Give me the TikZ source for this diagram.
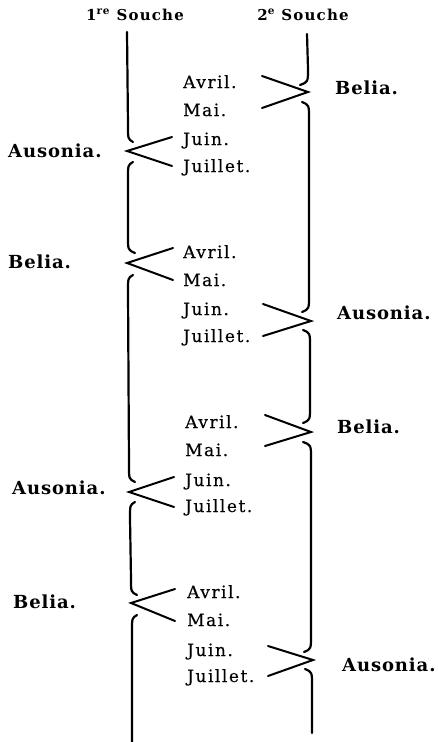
\documentclass[tikz,border=0pt]{standalone}
\usepackage{fontspec}
\setmainfont{DejaVu Serif}
\newfontfamily\monthfont[LetterSpace=9,FakeBold=0.4]{DejaVu Serif}
\newfontfamily\labfont[LetterSpace=5]{DejaVu Serif}
\newfontfamily\headfont[LetterSpace=8]{DejaVu Serif}
\begin{document}
\begin{tikzpicture}[x=1pt,y=-1pt,
  br/.style={line width=2.2pt,line cap=round},
  arm/.style={line width=2pt,line cap=round},
  month/.style={anchor=base west,inner sep=0pt,font=\monthfont\fontsize{17}{20}\selectfont},
  lab/.style={anchor=base west,inner sep=0pt,font=\labfont\bfseries\fontsize{18}{21}\selectfont},
  head/.style={anchor=base,inner sep=0pt,font=\headfont\bfseries\fontsize{15}{18}\selectfont}]
\useasboundingbox[fill=white] (0,0) rectangle (438,742);

% headers
\node[head] (h1) at (135,20) {1\textsuperscript{re} Souche};
\node[head] (h2) at (303,20) {2\textsuperscript{e} Souche};

% month blocks
\foreach \g/\x/\a/\b/\c/\d in {1/183/82/110/139/166, 2/183/252/280/309/336, 3/185/422/450/480/506, 4/187/592/620/650/676}{
  \node[month] (av\g) at (\x,\a+6) {Avril.};
  \node[month] (ma\g) at (\x,\b+6) {Mai.};
  \node[month] (ju\g) at (\x,\c+6) {Juin.};
  \node[month] (jl\g) at (\x,\d+6) {Juillet.};
}

% side labels
\node[lab] (l1) at (8,157) {Ausonia.};
\node[lab] (l2) at (8,268) {Belia.};
\node[lab] (l3) at (12,494) {Ausonia.};
\node[lab] (l4) at (13,608) {Belia.};
\node[lab] (r1) at (335,94) {Belia.};
\node[lab] (r2) at (337,319) {Ausonia.};
\node[lab] (r3) at (337,433) {Belia.};
\node[lab] (r4) at (342,671) {Ausonia.};

% tips and arm ends
\coordinate (A1) at (127,151); \coordinate (A1a) at (172,137); \coordinate (A1b) at (172,166);
\coordinate (A2) at (127,263); \coordinate (A2a) at (173,248); \coordinate (A2b) at (173,280);
\coordinate (A3) at (129,492); \coordinate (A3a) at (174,477); \coordinate (A3b) at (174,507);
\coordinate (A4) at (131,603); \coordinate (A4a) at (175,589); \coordinate (A4b) at (175,621);
\coordinate (B1) at (308,92);  \coordinate (B1a) at (262,76);  \coordinate (B1b) at (262,108);
\coordinate (B2) at (311,321); \coordinate (B2a) at (263,304); \coordinate (B2b) at (263,336);
\coordinate (B3) at (311,432); \coordinate (B3a) at (265,415); \coordinate (B3b) at (265,446);
\coordinate (B4) at (313,660); \coordinate (B4a) at (268,646); \coordinate (B4b) at (268,676);

\foreach \t in {A1,A2,A3,A4,B1,B2,B3,B4}{
  \draw[arm] (\t a) -- (\t) -- (\t b);
}

% left brace (1re Souche)
\draw[br] (127,32) -- (128,126) .. controls (128,139) .. (133,142);
\draw[br] (133,162) .. controls (128,165) .. (128,178) -- (128,237) .. controls (128,250) .. (135,253);
\draw[br] (133,275) .. controls (128,278) .. (128,291) -- (129,466) .. controls (129,479) .. (135,482);
\draw[br] (135,502) .. controls (130,505) .. (130,518) -- (131,579) .. controls (131,592) .. (137,595);
\draw[br] (137,615) .. controls (132,618) .. (132,631) -- (132,742);

% right brace (2e Souche)
\draw[br] (307,34) -- (308,69) .. controls (308,82) .. (300,85);
\draw[br] (302,102) .. controls (309,105) .. (309,118) -- (309,296) .. controls (309,309) .. (302,312);
\draw[br] (303,330) .. controls (310,333) .. (310,346) -- (310,407) .. controls (310,420) .. (303,423);
\draw[br] (303,442) .. controls (311,445) .. (311,458) -- (311,636) .. controls (311,649) .. (304,652);
\draw[br] (305,669) .. controls (312,672) .. (312,685) -- (312,733);
\end{tikzpicture}
\end{document}
